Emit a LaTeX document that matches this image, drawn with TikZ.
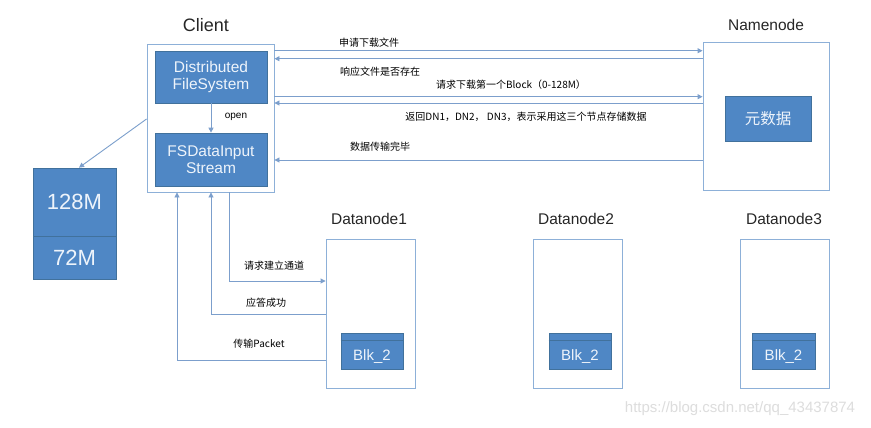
\documentclass[tikz,border=0pt]{standalone}
\usepackage{fontspec}
\setmainfont{Liberation Sans}
\newfontfamily\cjk{Noto Sans CJK SC}
\usetikzlibrary{arrows.meta}
\definecolor{bfill}{HTML}{4F87C5}
\definecolor{bdraw}{HTML}{41719C}
\definecolor{lblue}{HTML}{7C9FCC}
\definecolor{frame}{HTML}{8DB0D8}
\definecolor{btext}{HTML}{EEF4FB}
\definecolor{wmark}{HTML}{DDDDDD}
\begin{document}
\begin{tikzpicture}[x=1pt,y=-1pt,
  framebox/.style={draw=frame,line width=0.9pt,fill=white,rectangle,inner sep=0pt},
  bluebox/.style={draw=bdraw,line width=0.7pt,fill=bfill,rectangle,inner sep=0pt,text=btext,align=center},
  title/.style={font=\fontsize{15.5}{18}\selectfont,text=black!85},
  conn/.style={draw=lblue,line width=0.9pt,-{Triangle[width=5pt,length=5pt]}},
  lbl/.style={font=\cjk\fontsize{10}{12}\selectfont,text=black,inner sep=0pt},
  blkbox/.style={bluebox,minimum width=62pt,minimum height=36pt,font=\fontsize{15}{18}\selectfont,text height=19pt,text depth=0pt}
]
\useasboundingbox (0,0) rectangle (871,428);
\fill[white] (0,0) rectangle (871,428);

% titles
\node[title,font=\fontsize{18}{21}\selectfont] (tclient) at (206,25) {Client};
\node[title] (tname) at (766,25) {Namenode};
\node[title] (tdn1) at (369,219) {Datanode1};
\node[title] (tdn2) at (576,219) {Datanode2};
\node[title] (tdn3) at (784,219) {Datanode3};

% client
\node[framebox,minimum width=127pt,minimum height=148pt] (client) at (210.5,118) {};
\node[bluebox,minimum width=112pt,minimum height=52pt,font=\fontsize{15.5}{17}\selectfont] (dfs) at (211,77) {Distributed\\FileSystem};
\node[bluebox,minimum width=112pt,minimum height=53pt,font=\fontsize{15.5}{17}\selectfont] (fsd) at (211,159.5) {FSDataInput\\Stream};
\draw[conn] (dfs.south) -- (fsd.north);
\node[lbl,font=\fontsize{10}{12}\selectfont] (lopen) at (236,117) {open};

% namenode
\node[framebox,minimum width=126pt,minimum height=148pt] (name) at (766,116) {};
\node[bluebox,minimum width=86pt,minimum height=45pt,font=\cjk\fontsize{15.5}{18}\selectfont] (meta) at (768,118.5) {元数据};

% block sizes
\node[bluebox,minimum width=83pt,minimum height=68pt,font=\fontsize{22}{26}\selectfont] (b128) at (74.5,202) {128M};
\node[bluebox,minimum width=83pt,minimum height=43pt,font=\fontsize{22}{26}\selectfont] (b72) at (74.5,257.5) {72M};

% datanodes
\node[framebox,minimum width=89pt,minimum height=149pt] (dn1) at (370.5,313.5) {};
\node[framebox,minimum width=89pt,minimum height=149pt] (dn2) at (577.5,313.5) {};
\node[framebox,minimum width=89pt,minimum height=149pt] (dn3) at (784.5,313.5) {};
\node[blkbox] (blk1) at (372,351) {Blk\_2};
\node[blkbox] (blk2) at (580,351) {Blk\_2};
\node[blkbox,minimum width=63pt] (blk3) at (783.5,351) {Blk\_2};
\foreach \b in {blk1,blk2,blk3}
  \draw[bdraw,line width=0.7pt] ([yshift=-8pt]\b.north west) -- ([yshift=-8pt]\b.north east);

% helper coordinates
\coordinate (y1) at (0,50.7);
\coordinate (y2) at (0,58.7);
\coordinate (y3) at (0,96.7);
\coordinate (y4) at (0,103);
\coordinate (y5) at (0,160);
\coordinate (ya) at (0,281);
\coordinate (yb) at (0,314);
\coordinate (yc) at (0,360);
\coordinate (xa) at (229,0);
\coordinate (xb) at (211,0);
\coordinate (xc) at (177,0);
\coordinate (ys) at (0,119);
\coordinate (xs) at (79,0);

% client <-> namenode
\draw[conn] (client.east |- y1) -- (name.west |- y1);
\draw[conn] (name.west |- y2) -- (client.east |- y2);
\draw[conn] (client.east |- y3) -- (name.west |- y3);
\draw[conn] (name.west |- y4) -- (client.east |- y4);
\draw[conn] (name.west |- y5) -- (client.east |- y5);
\node[lbl] (l1) at (369,43) {申请下载文件};
\node[lbl] (l2) at (380,72) {响应文件是否存在};
\node[lbl] (l3) at (511,84.5) {请求下载第一个Block（0-128M）};
\node[lbl] (l4) at (526,117) {返回DN1，DN2， DN3，表示采用这三个节点存储数据};
\node[lbl] (l5) at (380,147) {数据传输完毕};

% client -> block sizes
\draw[conn] (client.west |- ys) -- (b128.north -| xs);

% client <-> datanode1
\draw[conn] (client.south -| xa) |- (dn1.west |- ya);
\draw[conn] (dn1.west |- yb) -| (client.south -| xb);
\draw[conn] (dn1.west |- yc) -| (client.south -| xc);
\node[lbl] (l6) at (274,266) {请求建立通道};
\node[lbl] (l7) at (266,303) {应答成功};
\node[lbl] (l8) at (259,344) {传输Packet};

% watermark
\node[font=\fontsize{15}{17}\selectfont,text=wmark,inner sep=0pt] (wm) at (740,409) {https://blog.csdn.net/qq\_43437874};
\end{tikzpicture}
\end{document}
